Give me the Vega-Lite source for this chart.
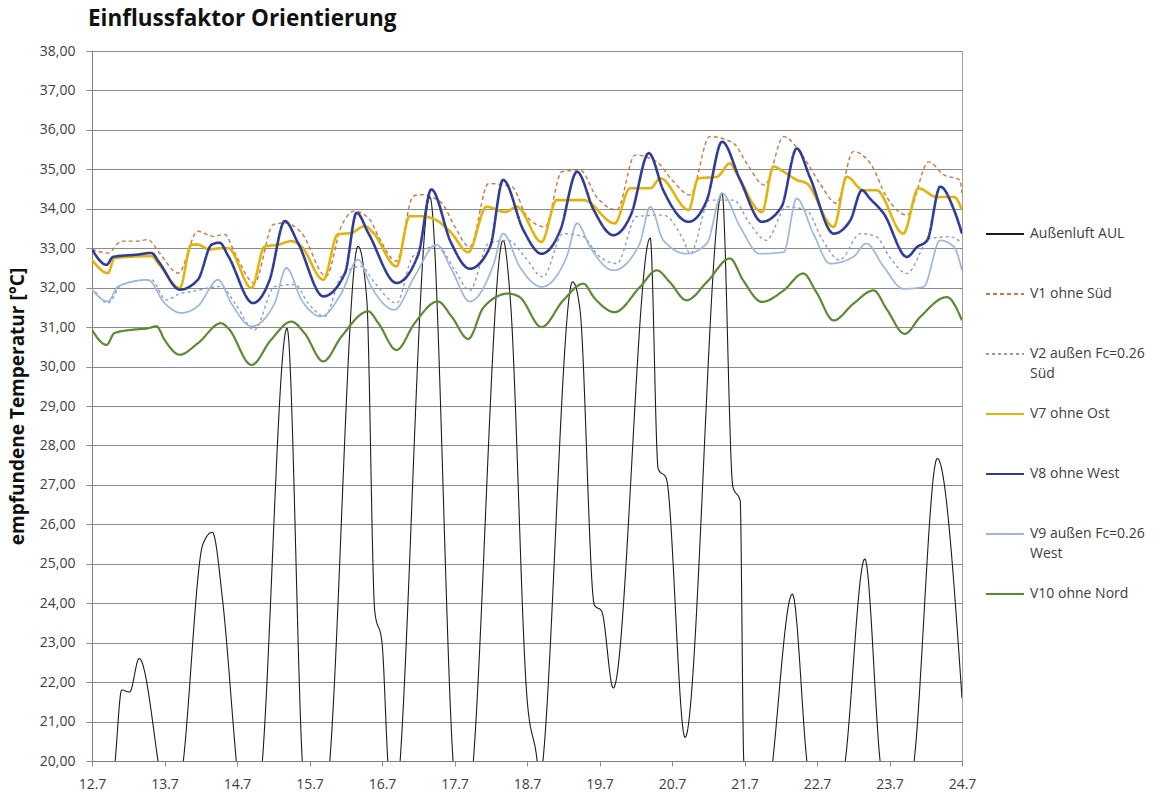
{
  "$schema": "https://vega.github.io/schema/vega-lite/v6.json",
  "autosize": {"type": "none"},
  "padding": {"left": 92, "top": 51, "right": 205, "bottom": 31},
  "width": 870,
  "height": 710,
  "background": "white",
  "title": {"text": "Einflussfaktor Orientierung", "anchor": "start", "frame": "group", "font": "Open Sans", "fontSize": 22.5, "fontWeight": "bold", "color": "#111111", "offset": 14, "dx": -4},
  "config": {
    "view": {"stroke": "#a0a0a0", "strokeWidth": 1},
    "axis": {"labelFont": "Open Sans", "labelFontSize": 14, "labelColor": "#404040", "titleFont": "Open Sans", "titleFontSize": 19, "titleColor": "#111111", "domainColor": "#808080", "tickColor": "#8a8a8a", "gridColor": "#8a8a8a", "gridOpacity": 1, "gridWidth": 1},
    "legend": {"labelFont": "Open Sans", "labelFontSize": 14, "labelColor": "#404040"},
    "style": {"guide-label": {"lineHeight": 20}}
  },
  "datasets": {
    "temps": [
      {"serie":"Außenluft AUL","tag":12.00,"temp":18.5},{"serie":"Außenluft AUL","tag":12.20,"temp":17.5},{"serie":"Außenluft AUL","tag":12.32,"temp":20.0},{"serie":"Außenluft AUL","tag":12.41,"temp":21.8},{"serie":"Außenluft AUL","tag":12.52,"temp":21.75},{"serie":"Außenluft AUL","tag":12.65,"temp":22.6},{"serie":"Außenluft AUL","tag":12.91,"temp":20.0},{"serie":"Außenluft AUL","tag":13.08,"temp":17.5},{"serie":"Außenluft AUL","tag":13.26,"temp":20.0},{"serie":"Außenluft AUL","tag":13.53,"temp":25.5},{"serie":"Außenluft AUL","tag":13.66,"temp":25.8},{"serie":"Außenluft AUL","tag":13.80,"temp":24.1},{"serie":"Außenluft AUL","tag":13.99,"temp":20.0},{"serie":"Außenluft AUL","tag":14.17,"temp":16.5},{"serie":"Außenluft AUL","tag":14.35,"temp":20.0},{"serie":"Außenluft AUL","tag":14.69,"temp":30.97},{"serie":"Außenluft AUL","tag":14.90,"temp":20.0},{"serie":"Außenluft AUL","tag":15.09,"temp":16.5},{"serie":"Außenluft AUL","tag":15.28,"temp":20.0},{"serie":"Außenluft AUL","tag":15.67,"temp":33.05},{"serie":"Außenluft AUL","tag":15.79,"temp":31.7},{"serie":"Außenluft AUL","tag":15.90,"temp":23.8},{"serie":"Außenluft AUL","tag":16.00,"temp":23.0},{"serie":"Außenluft AUL","tag":16.08,"temp":20.0},{"serie":"Außenluft AUL","tag":16.17,"temp":18.0},{"serie":"Außenluft AUL","tag":16.25,"temp":20.0},{"serie":"Außenluft AUL","tag":16.66,"temp":34.3},{"serie":"Außenluft AUL","tag":16.98,"temp":20.0},{"serie":"Außenluft AUL","tag":17.12,"temp":17.0},{"serie":"Außenluft AUL","tag":17.26,"temp":20.0},{"serie":"Außenluft AUL","tag":17.67,"temp":33.2},{"serie":"Außenluft AUL","tag":17.77,"temp":31.7},{"serie":"Außenluft AUL","tag":18.00,"temp":21.6},{"serie":"Außenluft AUL","tag":18.14,"temp":20.0},{"serie":"Außenluft AUL","tag":18.18,"temp":19.3},{"serie":"Außenluft AUL","tag":18.22,"temp":20.0},{"serie":"Außenluft AUL","tag":18.63,"temp":32.15},{"serie":"Außenluft AUL","tag":18.73,"temp":31.46},{"serie":"Außenluft AUL","tag":18.93,"temp":23.95},{"serie":"Außenluft AUL","tag":19.03,"temp":23.8},{"serie":"Außenluft AUL","tag":19.19,"temp":21.85},{"serie":"Außenluft AUL","tag":19.70,"temp":33.26},{"serie":"Außenluft AUL","tag":19.81,"temp":27.4},{"serie":"Außenluft AUL","tag":19.92,"temp":27.17},{"serie":"Außenluft AUL","tag":20.18,"temp":20.6},{"serie":"Außenluft AUL","tag":20.69,"temp":34.4},{"serie":"Außenluft AUL","tag":20.84,"temp":26.95},{"serie":"Außenluft AUL","tag":20.94,"temp":26.6},{"serie":"Außenluft AUL","tag":20.99,"temp":20.0},{"serie":"Außenluft AUL","tag":21.20,"temp":16.5},{"serie":"Außenluft AUL","tag":21.39,"temp":20.0},{"serie":"Außenluft AUL","tag":21.66,"temp":24.23},{"serie":"Außenluft AUL","tag":21.86,"temp":20.0},{"serie":"Außenluft AUL","tag":22.10,"temp":17.0},{"serie":"Außenluft AUL","tag":22.39,"temp":20.0},{"serie":"Außenluft AUL","tag":22.66,"temp":25.12},{"serie":"Außenluft AUL","tag":22.87,"temp":20.0},{"serie":"Außenluft AUL","tag":23.10,"temp":17.5},{"serie":"Außenluft AUL","tag":23.34,"temp":20.0},{"serie":"Außenluft AUL","tag":23.66,"temp":27.67},{"serie":"Außenluft AUL","tag":24.00,"temp":21.6},

      {"serie":"V1 ohne Süd","tag":12.00,"temp":32.97},{"serie":"V1 ohne Süd","tag":12.22,"temp":32.88},{"serie":"V1 ohne Süd","tag":12.41,"temp":33.18},{"serie":"V1 ohne Süd","tag":12.63,"temp":33.18},{"serie":"V1 ohne Süd","tag":12.77,"temp":33.22},{"serie":"V1 ohne Süd","tag":12.93,"temp":32.88},{"serie":"V1 ohne Süd","tag":13.19,"temp":32.37},{"serie":"V1 ohne Süd","tag":13.46,"temp":33.43},{"serie":"V1 ohne Süd","tag":13.67,"temp":33.3},{"serie":"V1 ohne Süd","tag":13.83,"temp":33.35},{"serie":"V1 ohne Süd","tag":13.97,"temp":32.88},{"serie":"V1 ohne Süd","tag":14.24,"temp":32.12},{"serie":"V1 ohne Süd","tag":14.50,"temp":33.6},{"serie":"V1 ohne Süd","tag":14.66,"temp":33.64},{"serie":"V1 ohne Süd","tag":14.89,"temp":33.39},{"serie":"V1 ohne Süd","tag":15.23,"temp":32.29},{"serie":"V1 ohne Süd","tag":15.44,"temp":33.56},{"serie":"V1 ohne Süd","tag":15.62,"temp":33.94},{"serie":"V1 ohne Süd","tag":15.83,"temp":33.73},{"serie":"V1 ohne Süd","tag":15.95,"temp":33.3},{"serie":"V1 ohne Süd","tag":16.20,"temp":32.67},{"serie":"V1 ohne Süd","tag":16.43,"temp":34.32},{"serie":"V1 ohne Süd","tag":16.54,"temp":34.36},{"serie":"V1 ohne Süd","tag":16.82,"temp":34.15},{"serie":"V1 ohne Süd","tag":17.00,"temp":33.56},{"serie":"V1 ohne Süd","tag":17.21,"temp":33.03},{"serie":"V1 ohne Süd","tag":17.47,"temp":34.64},{"serie":"V1 ohne Süd","tag":17.79,"temp":34.56},{"serie":"V1 ohne Süd","tag":18.00,"temp":33.8},{"serie":"V1 ohne Süd","tag":18.25,"temp":33.54},{"serie":"V1 ohne Süd","tag":18.48,"temp":34.94},{"serie":"V1 ohne Süd","tag":18.73,"temp":34.98},{"serie":"V1 ohne Süd","tag":18.96,"temp":34.3},{"serie":"V1 ohne Süd","tag":19.24,"temp":33.97},{"serie":"V1 ohne Süd","tag":19.49,"temp":35.36},{"serie":"V1 ohne Süd","tag":19.79,"temp":35.19},{"serie":"V1 ohne Süd","tag":20.00,"temp":34.73},{"serie":"V1 ohne Süd","tag":20.25,"temp":34.35},{"serie":"V1 ohne Süd","tag":20.52,"temp":35.83},{"serie":"V1 ohne Süd","tag":20.85,"temp":35.66},{"serie":"V1 ohne Süd","tag":21.03,"temp":35.15},{"serie":"V1 ohne Süd","tag":21.28,"temp":34.6},{"serie":"V1 ohne Süd","tag":21.54,"temp":35.83},{"serie":"V1 ohne Süd","tag":21.81,"temp":35.32},{"serie":"V1 ohne Süd","tag":22.04,"temp":34.64},{"serie":"V1 ohne Süd","tag":22.27,"temp":34.14},{"serie":"V1 ohne Süd","tag":22.50,"temp":35.45},{"serie":"V1 ohne Süd","tag":22.75,"temp":35.11},{"serie":"V1 ohne Süd","tag":22.96,"temp":34.3},{"serie":"V1 ohne Süd","tag":23.24,"temp":33.84},{"serie":"V1 ohne Süd","tag":23.54,"temp":35.19},{"serie":"V1 ohne Süd","tag":23.75,"temp":34.86},{"serie":"V1 ohne Süd","tag":23.97,"temp":34.73},{"serie":"V1 ohne Süd","tag":24.00,"temp":34.4},

      {"serie":"V2 außen Fc=0.26 Süd","tag":12.00,"temp":32.03},{"serie":"V2 außen Fc=0.26 Süd","tag":12.22,"temp":31.61},{"serie":"V2 außen Fc=0.26 Süd","tag":12.41,"temp":32.08},{"serie":"V2 außen Fc=0.26 Süd","tag":12.82,"temp":32.2},{"serie":"V2 außen Fc=0.26 Süd","tag":13.02,"temp":31.69},{"serie":"V2 außen Fc=0.26 Süd","tag":13.23,"temp":31.86},{"serie":"V2 außen Fc=0.26 Süd","tag":13.37,"temp":31.9},{"serie":"V2 außen Fc=0.26 Süd","tag":13.78,"temp":32.03},{"serie":"V2 außen Fc=0.26 Süd","tag":13.97,"temp":31.61},{"serie":"V2 außen Fc=0.26 Süd","tag":14.24,"temp":30.93},{"serie":"V2 außen Fc=0.26 Süd","tag":14.52,"temp":32.03},{"serie":"V2 außen Fc=0.26 Süd","tag":14.80,"temp":32.08},{"serie":"V2 außen Fc=0.26 Süd","tag":14.98,"temp":31.61},{"serie":"V2 außen Fc=0.26 Süd","tag":15.21,"temp":31.27},{"serie":"V2 außen Fc=0.26 Süd","tag":15.44,"temp":32.29},{"serie":"V2 außen Fc=0.26 Süd","tag":15.71,"temp":32.54},{"serie":"V2 außen Fc=0.26 Süd","tag":15.90,"temp":32.12},{"serie":"V2 außen Fc=0.26 Süd","tag":16.20,"temp":31.61},{"serie":"V2 außen Fc=0.26 Süd","tag":16.43,"temp":32.8},{"serie":"V2 außen Fc=0.26 Süd","tag":16.77,"temp":33.05},{"serie":"V2 außen Fc=0.26 Süd","tag":17.00,"temp":32.46},{"serie":"V2 außen Fc=0.26 Süd","tag":17.21,"temp":31.93},{"serie":"V2 außen Fc=0.26 Süd","tag":17.47,"temp":33.12},{"serie":"V2 außen Fc=0.26 Süd","tag":17.74,"temp":33.2},{"serie":"V2 außen Fc=0.26 Süd","tag":17.97,"temp":32.78},{"serie":"V2 außen Fc=0.26 Süd","tag":18.22,"temp":32.27},{"serie":"V2 außen Fc=0.26 Süd","tag":18.50,"temp":33.37},{"serie":"V2 außen Fc=0.26 Süd","tag":18.78,"temp":33.29},{"serie":"V2 außen Fc=0.26 Süd","tag":18.96,"temp":32.86},{"serie":"V2 außen Fc=0.26 Süd","tag":19.24,"temp":32.61},{"serie":"V2 außen Fc=0.26 Süd","tag":19.51,"temp":33.8},{"serie":"V2 außen Fc=0.26 Süd","tag":19.88,"temp":33.84},{"serie":"V2 außen Fc=0.26 Süd","tag":20.16,"temp":33.2},{"serie":"V2 außen Fc=0.26 Süd","tag":20.25,"temp":32.86},{"serie":"V2 außen Fc=0.26 Süd","tag":20.52,"temp":34.22},{"serie":"V2 außen Fc=0.26 Süd","tag":20.85,"temp":34.22},{"serie":"V2 außen Fc=0.26 Süd","tag":21.07,"temp":33.63},{"serie":"V2 außen Fc=0.26 Süd","tag":21.30,"temp":33.2},{"serie":"V2 außen Fc=0.26 Süd","tag":21.58,"temp":34.05},{"serie":"V2 außen Fc=0.26 Süd","tag":21.85,"temp":33.97},{"serie":"V2 außen Fc=0.26 Süd","tag":22.08,"temp":33.2},{"serie":"V2 außen Fc=0.26 Süd","tag":22.31,"temp":32.7},{"serie":"V2 außen Fc=0.26 Süd","tag":22.60,"temp":33.37},{"serie":"V2 außen Fc=0.26 Süd","tag":22.82,"temp":33.29},{"serie":"V2 außen Fc=0.26 Süd","tag":23.00,"temp":32.78},{"serie":"V2 außen Fc=0.26 Süd","tag":23.24,"temp":32.36},{"serie":"V2 außen Fc=0.26 Süd","tag":23.56,"temp":33.25},{"serie":"V2 außen Fc=0.26 Süd","tag":23.84,"temp":33.29},{"serie":"V2 außen Fc=0.26 Süd","tag":24.00,"temp":33.12},

      {"serie":"V7 ohne Ost","tag":12.00,"temp":32.71},{"serie":"V7 ohne Ost","tag":12.22,"temp":32.37},{"serie":"V7 ohne Ost","tag":12.31,"temp":32.75},{"serie":"V7 ohne Ost","tag":12.82,"temp":32.8},{"serie":"V7 ohne Ost","tag":12.93,"temp":32.58},{"serie":"V7 ohne Ost","tag":13.21,"temp":31.99},{"serie":"V7 ohne Ost","tag":13.37,"temp":33.09},{"serie":"V7 ohne Ost","tag":13.46,"temp":33.09},{"serie":"V7 ohne Ost","tag":13.62,"temp":32.97},{"serie":"V7 ohne Ost","tag":13.78,"temp":33.0},{"serie":"V7 ohne Ost","tag":13.88,"temp":33.0},{"serie":"V7 ohne Ost","tag":14.20,"temp":31.99},{"serie":"V7 ohne Ost","tag":14.38,"temp":33.04},{"serie":"V7 ohne Ost","tag":14.57,"temp":33.09},{"serie":"V7 ohne Ost","tag":14.75,"temp":33.18},{"serie":"V7 ohne Ost","tag":14.89,"temp":33.04},{"serie":"V7 ohne Ost","tag":15.19,"temp":32.2},{"serie":"V7 ohne Ost","tag":15.39,"temp":33.35},{"serie":"V7 ohne Ost","tag":15.58,"temp":33.39},{"serie":"V7 ohne Ost","tag":15.76,"temp":33.56},{"serie":"V7 ohne Ost","tag":15.88,"temp":33.39},{"serie":"V7 ohne Ost","tag":16.20,"temp":32.54},{"serie":"V7 ohne Ost","tag":16.38,"temp":33.81},{"serie":"V7 ohne Ost","tag":16.54,"temp":33.81},{"serie":"V7 ohne Ost","tag":16.73,"temp":33.73},{"serie":"V7 ohne Ost","tag":16.95,"temp":33.4},{"serie":"V7 ohne Ost","tag":17.19,"temp":32.9},{"serie":"V7 ohne Ost","tag":17.44,"temp":34.05},{"serie":"V7 ohne Ost","tag":17.70,"temp":33.92},{"serie":"V7 ohne Ost","tag":17.86,"temp":34.05},{"serie":"V7 ohne Ost","tag":18.20,"temp":33.16},{"serie":"V7 ohne Ost","tag":18.41,"temp":34.22},{"serie":"V7 ohne Ost","tag":18.78,"temp":34.22},{"serie":"V7 ohne Ost","tag":19.21,"temp":33.63},{"serie":"V7 ohne Ost","tag":19.42,"temp":34.52},{"serie":"V7 ohne Ost","tag":19.70,"temp":34.52},{"serie":"V7 ohne Ost","tag":19.84,"temp":34.77},{"serie":"V7 ohne Ost","tag":20.23,"temp":33.97},{"serie":"V7 ohne Ost","tag":20.36,"temp":34.77},{"serie":"V7 ohne Ost","tag":20.62,"temp":34.81},{"serie":"V7 ohne Ost","tag":20.80,"temp":35.15},{"serie":"V7 ohne Ost","tag":20.89,"temp":34.9},{"serie":"V7 ohne Ost","tag":21.24,"temp":33.92},{"serie":"V7 ohne Ost","tag":21.40,"temp":35.07},{"serie":"V7 ohne Ost","tag":21.54,"temp":34.94},{"serie":"V7 ohne Ost","tag":21.72,"temp":34.73},{"serie":"V7 ohne Ost","tag":21.86,"temp":34.64},{"serie":"V7 ohne Ost","tag":22.23,"temp":33.54},{"serie":"V7 ohne Ost","tag":22.41,"temp":34.81},{"serie":"V7 ohne Ost","tag":22.64,"temp":34.47},{"serie":"V7 ohne Ost","tag":22.82,"temp":34.47},{"serie":"V7 ohne Ost","tag":23.19,"temp":33.37},{"serie":"V7 ohne Ost","tag":23.40,"temp":34.52},{"serie":"V7 ohne Ost","tag":23.65,"temp":34.3},{"serie":"V7 ohne Ost","tag":23.89,"temp":34.3},{"serie":"V7 ohne Ost","tag":24.00,"temp":33.97},

      {"serie":"V8 ohne West","tag":12.00,"temp":32.97},{"serie":"V8 ohne West","tag":12.20,"temp":32.58},{"serie":"V8 ohne West","tag":12.29,"temp":32.78},{"serie":"V8 ohne West","tag":12.63,"temp":32.84},{"serie":"V8 ohne West","tag":12.82,"temp":32.88},{"serie":"V8 ohne West","tag":12.93,"temp":32.63},{"serie":"V8 ohne West","tag":13.21,"temp":31.95},{"serie":"V8 ohne West","tag":13.46,"temp":32.2},{"serie":"V8 ohne West","tag":13.65,"temp":33.09},{"serie":"V8 ohne West","tag":13.76,"temp":33.14},{"serie":"V8 ohne West","tag":13.88,"temp":32.8},{"serie":"V8 ohne West","tag":14.22,"temp":31.61},{"serie":"V8 ohne West","tag":14.45,"temp":32.2},{"serie":"V8 ohne West","tag":14.66,"temp":33.69},{"serie":"V8 ohne West","tag":14.84,"temp":33.14},{"serie":"V8 ohne West","tag":15.19,"temp":31.78},{"serie":"V8 ohne West","tag":15.49,"temp":32.37},{"serie":"V8 ohne West","tag":15.65,"temp":33.9},{"serie":"V8 ohne West","tag":15.81,"temp":33.39},{"serie":"V8 ohne West","tag":16.20,"temp":32.12},{"serie":"V8 ohne West","tag":16.50,"temp":32.84},{"serie":"V8 ohne West","tag":16.68,"temp":34.49},{"serie":"V8 ohne West","tag":16.95,"temp":33.15},{"serie":"V8 ohne West","tag":17.21,"temp":32.48},{"serie":"V8 ohne West","tag":17.49,"temp":33.03},{"serie":"V8 ohne West","tag":17.67,"temp":34.73},{"serie":"V8 ohne West","tag":17.95,"temp":33.46},{"serie":"V8 ohne West","tag":18.20,"temp":32.86},{"serie":"V8 ohne West","tag":18.46,"temp":33.46},{"serie":"V8 ohne West","tag":18.69,"temp":34.94},{"serie":"V8 ohne West","tag":18.92,"temp":33.97},{"serie":"V8 ohne West","tag":19.19,"temp":33.33},{"serie":"V8 ohne West","tag":19.44,"temp":33.88},{"serie":"V8 ohne West","tag":19.68,"temp":35.41},{"serie":"V8 ohne West","tag":19.88,"temp":34.47},{"serie":"V8 ohne West","tag":20.23,"temp":33.67},{"serie":"V8 ohne West","tag":20.48,"temp":34.22},{"serie":"V8 ohne West","tag":20.69,"temp":35.7},{"serie":"V8 ohne West","tag":20.94,"temp":34.73},{"serie":"V8 ohne West","tag":21.24,"temp":33.67},{"serie":"V8 ohne West","tag":21.51,"temp":34.05},{"serie":"V8 ohne West","tag":21.72,"temp":35.53},{"serie":"V8 ohne West","tag":21.90,"temp":34.81},{"serie":"V8 ohne West","tag":22.23,"temp":33.37},{"serie":"V8 ohne West","tag":22.46,"temp":33.71},{"serie":"V8 ohne West","tag":22.62,"temp":34.47},{"serie":"V8 ohne West","tag":22.73,"temp":34.26},{"serie":"V8 ohne West","tag":22.92,"temp":33.88},{"serie":"V8 ohne West","tag":23.24,"temp":32.78},{"serie":"V8 ohne West","tag":23.38,"temp":33.03},{"serie":"V8 ohne West","tag":23.52,"temp":33.2},{"serie":"V8 ohne West","tag":23.70,"temp":34.56},{"serie":"V8 ohne West","tag":23.89,"temp":33.97},{"serie":"V8 ohne West","tag":24.00,"temp":33.37},

      {"serie":"V9 außen Fc=0.26 West","tag":12.00,"temp":31.95},{"serie":"V9 außen Fc=0.26 West","tag":12.22,"temp":31.65},{"serie":"V9 außen Fc=0.26 West","tag":12.36,"temp":32.03},{"serie":"V9 außen Fc=0.26 West","tag":12.77,"temp":32.2},{"serie":"V9 außen Fc=0.26 West","tag":13.00,"temp":31.61},{"serie":"V9 außen Fc=0.26 West","tag":13.23,"temp":31.36},{"serie":"V9 außen Fc=0.26 West","tag":13.46,"temp":31.53},{"serie":"V9 außen Fc=0.26 West","tag":13.74,"temp":32.2},{"serie":"V9 außen Fc=0.26 West","tag":13.92,"temp":31.61},{"serie":"V9 außen Fc=0.26 West","tag":14.20,"temp":31.02},{"serie":"V9 außen Fc=0.26 West","tag":14.52,"temp":31.61},{"serie":"V9 außen Fc=0.26 West","tag":14.68,"temp":32.5},{"serie":"V9 außen Fc=0.26 West","tag":14.89,"temp":31.69},{"serie":"V9 außen Fc=0.26 West","tag":15.16,"temp":31.27},{"serie":"V9 außen Fc=0.26 West","tag":15.44,"temp":31.86},{"serie":"V9 außen Fc=0.26 West","tag":15.67,"temp":32.71},{"serie":"V9 außen Fc=0.26 West","tag":15.85,"temp":32.03},{"serie":"V9 außen Fc=0.26 West","tag":16.17,"temp":31.44},{"serie":"V9 außen Fc=0.26 West","tag":16.45,"temp":32.29},{"serie":"V9 außen Fc=0.26 West","tag":16.75,"temp":33.09},{"serie":"V9 außen Fc=0.26 West","tag":16.96,"temp":32.46},{"serie":"V9 außen Fc=0.26 West","tag":17.21,"temp":31.65},{"serie":"V9 außen Fc=0.26 West","tag":17.54,"temp":32.6},{"serie":"V9 außen Fc=0.26 West","tag":17.67,"temp":33.37},{"serie":"V9 außen Fc=0.26 West","tag":17.90,"temp":32.53},{"serie":"V9 außen Fc=0.26 West","tag":18.20,"temp":32.02},{"serie":"V9 außen Fc=0.26 West","tag":18.55,"temp":32.8},{"serie":"V9 außen Fc=0.26 West","tag":18.69,"temp":33.63},{"serie":"V9 außen Fc=0.26 West","tag":18.87,"temp":33.03},{"serie":"V9 außen Fc=0.26 West","tag":19.19,"temp":32.44},{"serie":"V9 außen Fc=0.26 West","tag":19.55,"temp":33.1},{"serie":"V9 außen Fc=0.26 West","tag":19.70,"temp":34.05},{"serie":"V9 außen Fc=0.26 West","tag":19.88,"temp":33.2},{"serie":"V9 außen Fc=0.26 West","tag":20.20,"temp":32.86},{"serie":"V9 außen Fc=0.26 West","tag":20.48,"temp":33.12},{"serie":"V9 außen Fc=0.26 West","tag":20.69,"temp":34.39},{"serie":"V9 außen Fc=0.26 West","tag":20.94,"temp":33.54},{"serie":"V9 außen Fc=0.26 West","tag":21.21,"temp":32.86},{"serie":"V9 außen Fc=0.26 West","tag":21.54,"temp":32.9},{"serie":"V9 außen Fc=0.26 West","tag":21.72,"temp":34.26},{"serie":"V9 außen Fc=0.26 West","tag":21.95,"temp":33.37},{"serie":"V9 außen Fc=0.26 West","tag":22.18,"temp":32.61},{"serie":"V9 außen Fc=0.26 West","tag":22.50,"temp":32.78},{"serie":"V9 außen Fc=0.26 West","tag":22.68,"temp":33.12},{"serie":"V9 außen Fc=0.26 West","tag":22.92,"temp":32.53},{"serie":"V9 außen Fc=0.26 West","tag":23.19,"temp":31.97},{"serie":"V9 außen Fc=0.26 West","tag":23.47,"temp":32.02},{"serie":"V9 außen Fc=0.26 West","tag":23.70,"temp":33.2},{"serie":"V9 außen Fc=0.26 West","tag":23.89,"temp":33.03},{"serie":"V9 außen Fc=0.26 West","tag":24.00,"temp":32.44},

      {"serie":"V10 ohne Nord","tag":12.00,"temp":30.93},{"serie":"V10 ohne Nord","tag":12.20,"temp":30.55},{"serie":"V10 ohne Nord","tag":12.31,"temp":30.85},{"serie":"V10 ohne Nord","tag":12.54,"temp":30.93},{"serie":"V10 ohne Nord","tag":12.77,"temp":30.97},{"serie":"V10 ohne Nord","tag":12.89,"temp":31.02},{"serie":"V10 ohne Nord","tag":13.00,"temp":30.68},{"serie":"V10 ohne Nord","tag":13.21,"temp":30.3},{"serie":"V10 ohne Nord","tag":13.46,"temp":30.59},{"serie":"V10 ohne Nord","tag":13.78,"temp":31.1},{"serie":"V10 ohne Nord","tag":13.88,"temp":30.97},{"serie":"V10 ohne Nord","tag":14.20,"temp":30.04},{"serie":"V10 ohne Nord","tag":14.47,"temp":30.68},{"serie":"V10 ohne Nord","tag":14.75,"temp":31.14},{"serie":"V10 ohne Nord","tag":14.93,"temp":30.85},{"serie":"V10 ohne Nord","tag":15.19,"temp":30.13},{"serie":"V10 ohne Nord","tag":15.44,"temp":30.76},{"serie":"V10 ohne Nord","tag":15.81,"temp":31.4},{"serie":"V10 ohne Nord","tag":15.95,"temp":31.1},{"serie":"V10 ohne Nord","tag":16.20,"temp":30.42},{"serie":"V10 ohne Nord","tag":16.45,"temp":31.1},{"serie":"V10 ohne Nord","tag":16.77,"temp":31.65},{"serie":"V10 ohne Nord","tag":16.96,"temp":31.27},{"serie":"V10 ohne Nord","tag":17.19,"temp":30.7},{"serie":"V10 ohne Nord","tag":17.40,"temp":31.5},{"serie":"V10 ohne Nord","tag":17.74,"temp":31.85},{"serie":"V10 ohne Nord","tag":17.90,"temp":31.76},{"serie":"V10 ohne Nord","tag":18.20,"temp":31.0},{"serie":"V10 ohne Nord","tag":18.50,"temp":31.68},{"serie":"V10 ohne Nord","tag":18.78,"temp":32.1},{"serie":"V10 ohne Nord","tag":18.92,"temp":31.76},{"serie":"V10 ohne Nord","tag":19.21,"temp":31.38},{"serie":"V10 ohne Nord","tag":19.56,"temp":32.02},{"serie":"V10 ohne Nord","tag":19.79,"temp":32.44},{"serie":"V10 ohne Nord","tag":19.97,"temp":32.14},{"serie":"V10 ohne Nord","tag":20.20,"temp":31.68},{"serie":"V10 ohne Nord","tag":20.48,"temp":32.14},{"serie":"V10 ohne Nord","tag":20.80,"temp":32.74},{"serie":"V10 ohne Nord","tag":20.98,"temp":32.19},{"serie":"V10 ohne Nord","tag":21.24,"temp":31.64},{"serie":"V10 ohne Nord","tag":21.54,"temp":31.93},{"serie":"V10 ohne Nord","tag":21.81,"temp":32.36},{"serie":"V10 ohne Nord","tag":21.99,"temp":31.89},{"serie":"V10 ohne Nord","tag":22.23,"temp":31.17},{"serie":"V10 ohne Nord","tag":22.50,"temp":31.59},{"serie":"V10 ohne Nord","tag":22.78,"temp":31.93},{"serie":"V10 ohne Nord","tag":22.96,"temp":31.46},{"serie":"V10 ohne Nord","tag":23.21,"temp":30.83},{"serie":"V10 ohne Nord","tag":23.42,"temp":31.25},{"serie":"V10 ohne Nord","tag":23.79,"temp":31.76},{"serie":"V10 ohne Nord","tag":24.00,"temp":31.17}
    ]
  },
  "data": {"name": "temps"},
  "encoding": {
    "x": {"field": "tag", "type": "quantitative", "scale": {"domain": [12, 24], "nice": false, "zero": false},
      "axis": {"title": null, "values": [12,13,14,15,16,17,18,19,20,21,22,23,24], "labelExpr": "datum.value + '.7'", "grid": false, "tickSize": 5, "labelPadding": 11, "labelFlush": false}},
    "y": {"field": "temp", "type": "quantitative", "scale": {"domain": [20, 38], "nice": false, "zero": false},
      "axis": {"title": "empfundene Temperatur [°C]", "values": [20,21,22,23,24,25,26,27,28,29,30,31,32,33,34,35,36,37,38], "labelExpr": "replace(format(datum.value, '.2f'), '.', ',')", "grid": true, "tickSize": 6, "labelPadding": 11, "titlePadding": 12, "titleFontWeight": "bold", "labelFlush": false}},
    "color": {"field": "serie", "type": "nominal",
      "scale": {"domain": ["Außenluft AUL", "V1 ohne Süd", "V2 außen Fc=0.26 Süd", "V7 ohne Ost", "V8 ohne West", "V9 außen Fc=0.26 West", "V10 ohne Nord"],
        "range": ["#1c1c1c", "#d0733e", "#8d9cbb", "#e2b30c", "#2f3c9a", "#9db6de", "#5b8a33"]},
      "legend": {"title": null, "orient": "none", "legendX": 893, "legendY": 163, "symbolType": "stroke", "symbolSize": 1444, "symbolStrokeWidth": 1.8, "labelOffset": 5, "rowPadding": 13, "labelLimit": 200,
        "labelExpr": "datum.label == 'V2 außen Fc=0.26 Süd' ? ['V2 außen Fc=0.26', 'Süd'] : datum.label == 'V9 außen Fc=0.26 West' ? ['V9 außen Fc=0.26', 'West'] : [datum.label, ' ']"}},
    "strokeDash": {"field": "serie", "type": "nominal",
      "scale": {"domain": ["Außenluft AUL", "V1 ohne Süd", "V2 außen Fc=0.26 Süd", "V7 ohne Ost", "V8 ohne West", "V9 außen Fc=0.26 West", "V10 ohne Nord"],
        "range": [[1, 0], [4, 3], [3, 3], [1, 0], [1, 0], [1, 0], [1, 0]]},
      "legend": {"title": null, "orient": "none", "legendX": 893, "legendY": 163, "symbolType": "stroke", "symbolSize": 1444, "symbolStrokeWidth": 1.8, "labelOffset": 5, "rowPadding": 13, "labelLimit": 200,
        "labelExpr": "datum.label == 'V2 außen Fc=0.26 Süd' ? ['V2 außen Fc=0.26', 'Süd'] : datum.label == 'V9 außen Fc=0.26 West' ? ['V9 außen Fc=0.26', 'West'] : [datum.label, ' ']"}}
  },
  "layer": [
    {"transform": [{"filter": {"field": "serie", "equal": "Außenluft AUL"}}], "mark": {"type": "line", "clip": true, "strokeWidth": 1.1, "interpolate": "monotone"}},
    {"transform": [{"filter": {"field": "serie", "oneOf": ["V1 ohne Süd", "V2 außen Fc=0.26 Süd"]}}], "mark": {"type": "line", "clip": true, "strokeWidth": 1.4, "interpolate": "monotone"}},
    {"transform": [{"filter": {"field": "serie", "oneOf": ["V7 ohne Ost", "V8 ohne West"]}}], "mark": {"type": "line", "clip": true, "strokeWidth": 2.6, "interpolate": "monotone"}},
    {"transform": [{"filter": {"field": "serie", "equal": "V9 außen Fc=0.26 West"}}], "mark": {"type": "line", "clip": true, "strokeWidth": 1.7, "interpolate": "monotone"}},
    {"transform": [{"filter": {"field": "serie", "equal": "V10 ohne Nord"}}], "mark": {"type": "line", "clip": true, "strokeWidth": 2.2, "interpolate": "monotone"}}
  ]
}
